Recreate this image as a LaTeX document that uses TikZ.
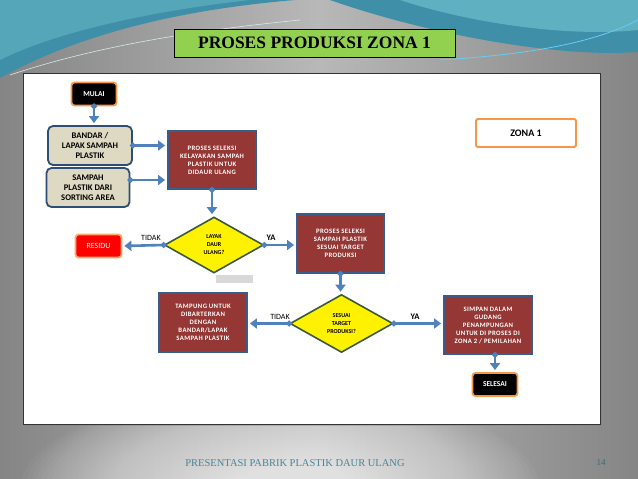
\documentclass[tikz,border=0pt]{standalone}
\usepackage{fontspec}
\setmainfont{Carlito}
\newfontfamily\serifttl{Liberation Serif}
\newfontfamily\widefont[LetterSpace=6]{Carlito}
\usetikzlibrary{shapes.geometric,arrows.meta,shadows}
\definecolor{bggray}{HTML}{9E9E9E}
\definecolor{bgdark}{HTML}{858585}
\definecolor{bglight}{HTML}{B8B8B8}
\definecolor{tealA}{HTML}{3F8FA8}
\definecolor{tealB}{HTML}{5FB0C0}
\definecolor{titlegreen}{HTML}{92D050}
\definecolor{boxred}{HTML}{953735}
\definecolor{boxblue}{HTML}{385D8A}
\definecolor{beige}{HTML}{DDD9C3}
\definecolor{beigeborder}{HTML}{2E4E74}
\definecolor{orangeb}{HTML}{F79646}
\definecolor{arrowblue}{HTML}{4F81BD}
\definecolor{diamondborder}{HTML}{3B5A3A}
\definecolor{footerteal}{HTML}{4A8595}
\begin{document}
\begin{tikzpicture}[x=1pt,y=-1pt,
  redbox/.style={draw=boxblue, line width=1.8pt, fill=boxred, text=white,
    font=\widefont\fontsize{6.7}{8}\selectfont\bfseries, align=center,
    minimum width=88pt, minimum height=58pt, inner sep=1pt},
  beigebox/.style={draw=beigeborder, line width=1.8pt, fill=beige, rounded corners=5pt,
    font=\fontsize{8.6}{10.2}\selectfont\bfseries, align=center,
    minimum width=84pt, minimum height=39pt, inner sep=1pt},
  termbox/.style={draw=orangeb, line width=1.8pt, fill=black, text=white, rounded corners=3pt,
    font=\fontsize{7.5}{8}\selectfont\bfseries, minimum width=45pt, minimum height=23pt, inner sep=1pt},
  residubox/.style={draw=orangeb!80, line width=1.8pt, fill=red, text=white, rounded corners=3pt,
    font=\fontsize{8}{9}\selectfont, minimum width=46pt, minimum height=23pt, inner sep=1pt},
  decision/.style={diamond, draw=diamondborder, line width=1.6pt, fill=yellow,
    font=\fontsize{6}{8}\selectfont\bfseries, align=center, inner sep=0pt},
  flow/.style={draw=arrowblue, line width=2.6pt,
    {Circle[length=5.5pt]}-{Triangle[length=7pt,width=10pt]}, shorten <=-2.7pt, shorten >=2pt},
  lbl/.style={font=\fontsize{8.5}{9}\selectfont\bfseries, inner sep=0pt}]
\useasboundingbox (0,0) rectangle (638,479);
% background
\shade[left color=bgdark, right color=bgdark, middle color=bglight] (0,0) rectangle (638,479);
\foreach \r in {1,...,48}{
  \fill[white, opacity=0.03] (280,490) ellipse ({20+5*\r} and {4+2*\r});
}
\fill[tealA] (0,0) -- (295,0) .. controls (200,8) and (90,28) .. (0,78) -- cycle;
\fill[tealB!70!tealA] (0,0) -- (250,0) .. controls (160,10) and (60,30) .. (0,60) -- cycle;
\fill[tealA] (330,0) -- (638,0) -- (638,52) .. controls (560,58) and (430,35) .. (330,0) -- cycle;
\fill[tealB] (400,0) -- (638,0) -- (638,30) .. controls (560,38) and (460,20) .. (400,0) -- cycle;
\draw[cyan!60, line width=0.8pt] (440,60) .. controls (520,55) and (590,45) .. (638,20);
\draw[white!80!tealA, line width=0.6pt] (10,75) .. controls (100,45) and (200,30) .. (300,20);
% panel
\draw[fill=white, draw=black!80, line width=0.8pt, drop shadow={shadow xshift=1.5pt, shadow yshift=-1.5pt, opacity=0.4}] (23,73) rectangle (600,424);
% title
\node[fill=titlegreen, draw=black, line width=0.8pt, minimum width=281pt, minimum height=28pt,
  font=\serifttl\fontsize{17.5}{18}\selectfont\bfseries] (title) at (314.5,43) {PROSES PRODUKSI ZONA 1};
% nodes
\node[termbox] (mulai) at (94,94) {MULAI};
\node[beigebox] (bandar) at (90,145.5) {BANDAR /\\LAPAK SAMPAH\\PLASTIK};
\node[beigebox, minimum width=83pt] (sampah) at (88,187.5) {SAMPAH\\PLASTIK DARI\\SORTING AREA};
\node[redbox] (seleksi1) at (212,160) {PROSES SELEKSI\\KELAYAKAN SAMPAH\\PLASTIK UNTUK\\DIDAUR ULANG};
\node[decision, minimum width=99pt, minimum height=56pt] (layak) at (214,245) {LAYAK\\DAUR\\ULANG?};
\node[fill=black!15, minimum width=37pt, minimum height=8pt, inner sep=0pt] (grey) at (234.5,279) {};
\node[residubox] (residu) at (98.5,246) {RESIDU};
\node[redbox, minimum width=87pt, minimum height=59pt] (seleksi2) at (340.5,243.5) {PROSES SELEKSI\\SAMPAH PLASTIK\\SESUAI TARGET\\PRODUKSI};
\node[decision, minimum width=103pt, minimum height=58pt] (sesuai) at (341.5,323.5) {SESUAI\\TARGET\\PRODUKSI?};
\node[redbox, minimum height=59pt] (tampung) at (203,322.5) {TAMPUNG UNTUK\\DIBARTERKAN\\DENGAN\\BANDAR/LAPAK\\SAMPAH PLASTIK};
\node[redbox] (simpan) at (488,325) {SIMPAN DALAM\\GUDANG\\PENAMPUNGAN\\UNTUK DI PROSES DI\\ZONA 2 / PEMILAHAN};
\node[termbox] (selesai) at (495,384.5) {SELESAI};
\node[draw=orangeb, line width=1.8pt, fill=white, rounded corners=1.5pt, minimum width=100pt, minimum height=28pt,
  font=\fontsize{10}{11}\selectfont\bfseries] (zona) at (526,133) {ZONA 1};
% connectors
\draw[flow] (mulai.south) -- (mulai.south |- bandar.north);
\draw[flow] (bandar.east) -- (bandar.east -| seleksi1.west);
\draw[flow] ([yshift=7.5pt]sampah.east) -- ([yshift=7.5pt]sampah.east -| seleksi1.west);
\draw[flow] (seleksi1.south) -- (seleksi1.south |- layak.north);
\draw[flow] (layak.west) -- (residu.east);
\draw[flow] (layak.east) -- (seleksi2.west |- layak.east);
\draw[flow] (seleksi2.south) -- (seleksi2.south |- sesuai.north);
\draw[flow] (sesuai.west) -- (tampung.east |- sesuai.west);
\draw[flow] (sesuai.east) -- (simpan.west |- sesuai.east);
\draw[flow] (simpan.south -| selesai.north) -- (selesai.north);
% labels
\node[lbl, font=\fontsize{8}{9}\selectfont] (t1) at (151,238) {TIDAK};
\node[lbl] (y1) at (271,238) {YA};
\node[lbl, font=\fontsize{8}{9}\selectfont] (t2) at (280,317) {TIDAK};
\node[lbl] (y2) at (415,317) {YA};
% footer
\node[text=footerteal, font=\serifttl\fontsize{10.5}{12}\selectfont] (footer) at (295,463) {PRESENTASI PABRIK PLASTIK DAUR ULANG};
\node[text=footerteal!80!black, font=\serifttl\fontsize{9}{10}\selectfont] (page) at (601,463) {14};
\end{tikzpicture}
\end{document}
